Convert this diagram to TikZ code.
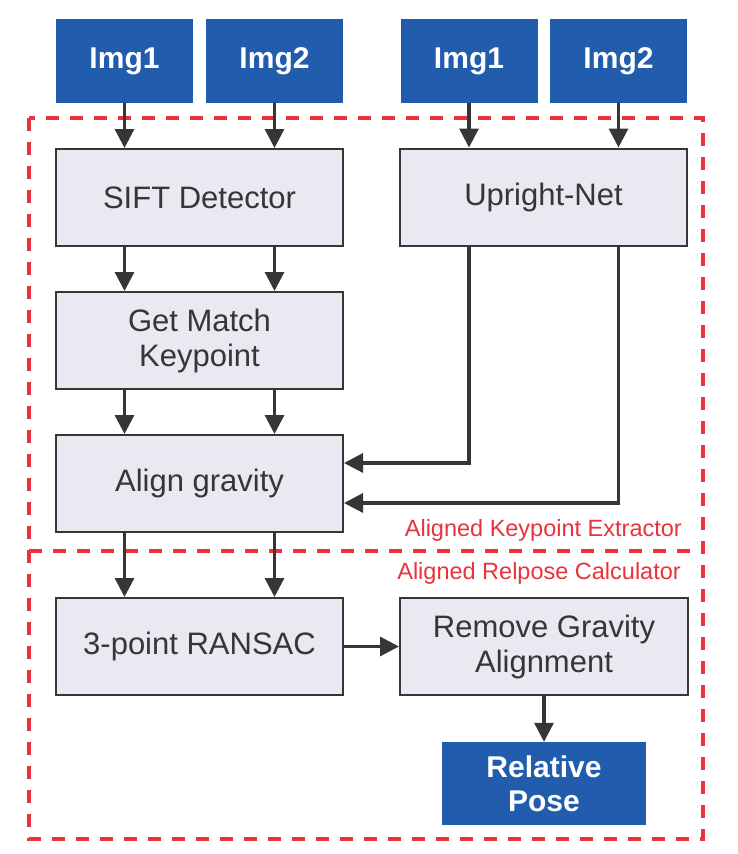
\documentclass[tikz,border=0pt]{standalone}
\usepackage{fontspec}
\setmainfont{Liberation Sans}
\usetikzlibrary{arrows.meta}
\definecolor{blu}{HTML}{225DAD}
\definecolor{gfill}{HTML}{E8E9F1}
\definecolor{dk}{HTML}{363636}
\definecolor{rd}{HTML}{E8323C}
\tikzset{
  imgbox/.style={fill=blu, draw=none, text=white, inner sep=0pt, align=center,
    minimum width=137pt, minimum height=84pt, font=\fontsize{30}{34}\selectfont\bfseries},
  procbox/.style={fill=gfill, draw=dk, line width=2pt, text=dk, inner sep=0pt, align=center,
    minimum width=287pt, minimum height=97pt, font=\fontsize{31}{35}\selectfont},
  arr/.style={draw=dk, line width=3.2pt, -{Triangle[length=19pt,width=19pt]}},
  region/.style={draw=rd, line width=4.8pt, dash pattern=on 13pt off 11pt},
  lbl/.style={text=rd, inner sep=0pt, anchor=east, font=\fontsize{23.5}{27}\selectfont}
}
\begin{document}
\begin{tikzpicture}[x=1pt,y=-1pt]
\useasboundingbox (0,0) rectangle (738,854);
% regions
\draw[region] (29,118) rectangle (703,839);
\draw[region] (29,551) -- (703,551);
\node[lbl] (lk) at (682,530) {Aligned Keypoint Extractor};
\node[lbl] (lr) at (681,573) {Aligned Relpose Calculator};
% inputs
\node[imgbox] (i1) at (124.5,61) {Img1};
\node[imgbox] (i2) at (274.5,61) {Img2};
\node[imgbox] (i3) at (469,61) {Img1};
\node[imgbox] (i4) at (618.5,61) {Img2};
% process boxes
\node[procbox] (sift) at (199.5,197.5) {SIFT Detector};
\node[procbox, minimum width=287pt] (up) at (543.5,197) {Upright-Net};
\node[procbox] (gm) at (199.5,340.5) {Get Match\\Keypoint};
\node[procbox] (ag) at (199.5,483.5) {Align gravity};
\node[procbox] (rs) at (199.5,646.5) {3-point RANSAC};
\node[procbox, minimum width=288pt] (rm) at (544,646.5) {Remove Gravity\\Alignment};
\node[imgbox, minimum width=204pt, minimum height=83pt] (rp) at (544,783.5) {Relative\\Pose};
% arrows
\draw[arr] (i1.south) -- (i1.south |- sift.north);
\draw[arr] (i2.south) -- (i2.south |- sift.north);
\draw[arr] (i3.south) -- (i3.south |- up.north);
\draw[arr] (i4.south) -- (i4.south |- up.north);
\draw[arr] (i1.south |- sift.south) -- (i1.south |- gm.north);
\draw[arr] (i2.south |- sift.south) -- (i2.south |- gm.north);
\draw[arr] (i1.south |- gm.south) -- (i1.south |- ag.north);
\draw[arr] (i2.south |- gm.south) -- (i2.south |- ag.north);
\draw[arr] (i3.south |- up.south) |- ([yshift=20.5pt]ag.east);
\draw[arr] (i4.south |- up.south) |- ([yshift=-19.5pt]ag.east);
\draw[arr] (i1.south |- ag.south) -- (i1.south |- rs.north);
\draw[arr] (i2.south |- ag.south) -- (i2.south |- rs.north);
\draw[arr] (rs.east) -- (rm.west);
\draw[arr] (rm.south) -- (rp.north);
\end{tikzpicture}
\end{document}
